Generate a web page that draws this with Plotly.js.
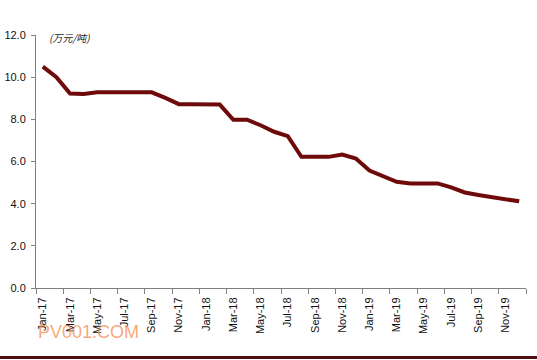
<!DOCTYPE html>
<html>
<head>
<meta charset="utf-8">
<script src="https://cdn.plot.ly/plotly-3.0.1.min.js"></script>
<style>html,body{margin:0;padding:0;background:#fff}#chart{width:537px;height:360px}</style>
</head>
<body>
<div id="chart"></div>
<script>
const months = ["Jan-17","Feb-17","Mar-17","Apr-17","May-17","Jun-17","Jul-17","Aug-17","Sep-17","Oct-17","Nov-17","Dec-17",
  "Jan-18","Feb-18","Mar-18","Apr-18","May-18","Jun-18","Jul-18","Aug-18","Sep-18","Oct-18","Nov-18","Dec-18",
  "Jan-19","Feb-19","Mar-19","Apr-19","May-19","Jun-19","Jul-19","Aug-19","Sep-19","Oct-19","Nov-19","Dec-19"];
const prices = [10.5,10.0,9.22,9.2,9.28,9.28,9.28,9.28,9.28,9.02,8.72,8.72,
  8.7,8.7,7.98,7.98,7.72,7.41,7.2,6.22,6.22,6.22,6.33,6.14,
  5.57,5.28,5.04,4.96,4.96,4.96,4.77,4.53,4.41,4.31,4.22,4.11];
const unitLabel = "(万元/吨)";
const watermark = "PV001.COM";

const trace = {
  x: months, y: prices, type: "scatter", mode: "lines",
  line: {color: "#6E0A0A", width: 4}, hoverinfo: "skip"
};
const layout = {
  width: 537, height: 360,
  margin: {l: 36, r: 11, t: 35, b: 72},
  paper_bgcolor: "#fff", plot_bgcolor: "#fff",
  showlegend: false,
  font: {family: "Liberation Sans, Arial, sans-serif", size: 11, color: "#111"},
  xaxis: {
    type: "category", range: [-0.5, 35.5], dtick: 2, tickangle: -90,
    tickson: "boundaries", ticks: "outside", ticklen: 5, tickcolor: "#808080",
    ticklabelstandoff: 4,
    showline: true, linecolor: "#808080", linewidth: 1, showgrid: false, zeroline: false,
    tickfont: {size: 11, color: "#111"}
  },
  yaxis: {
    range: [0, 12], dtick: 2, tickformat: ".1f",
    ticks: "outside", ticklen: 4, tickcolor: "#808080",
    ticklabelstandoff: 3,
    showline: true, linecolor: "#808080", linewidth: 1, showgrid: false, zeroline: false,
    tickfont: {size: 11, color: "#111"}
  },
  annotations: [
    {text: "<i>" + unitLabel + "</i>", xref: "paper", yref: "paper", x: 0.022, y: 0.99, xanchor: "left", yanchor: "middle",
     showarrow: false, font: {size: 10, color: "#222", family: "Noto Sans CJK SC, Liberation Sans, sans-serif"}},
    {text: watermark, xref: "paper", yref: "paper", x: 0.0, y: -0.175, xanchor: "left", yanchor: "middle",
     showarrow: false, font: {size: 18, color: "rgba(242,140,80,0.75)", family: "Liberation Sans, Arial, sans-serif"}}
  ],
  shapes: [
    {type: "line", xref: "paper", yref: "paper", x0: -0.08, x1: 1.03, y0: -0.2747, y1: -0.2747,
     line: {color: "#4E1010", width: 3}}
  ]
};
Plotly.newPlot("chart", [trace], layout, {displayModeBar: false, staticPlot: true});
</script>
</body>
</html>
